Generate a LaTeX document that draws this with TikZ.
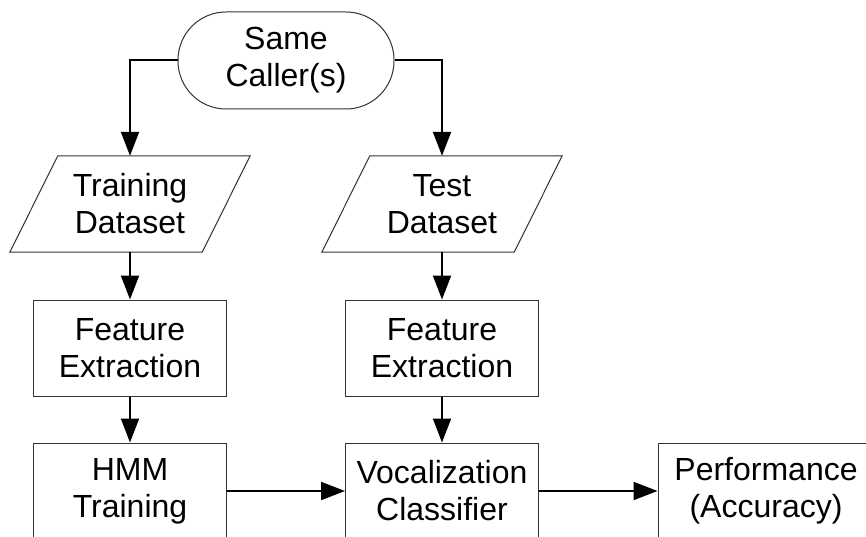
\documentclass[tikz,border=0pt]{standalone}
\usepackage{fontspec}
\setmainfont{Liberation Sans}
\usetikzlibrary{arrows.meta}

\begin{document}
\begin{tikzpicture}[x=1pt,y=1pt,
    every node/.style={font=\fontsize{32}{37}\selectfont, align=center},
    procbox/.style={draw=black!80, line width=1pt, minimum width=193pt, minimum height=96pt, inner sep=0pt},
    iobox/.style={minimum width=192pt, minimum height=96pt, inner sep=0pt},
    termbox/.style={draw=black!80, line width=1pt, rounded corners=48pt, minimum width=216pt, minimum height=97pt, inner sep=0pt},
    conn/.style={draw=black, line width=2pt, -{Triangle[length=24pt, width=18pt]}}
  ]
  \useasboundingbox (0,0) rectangle (866,536);
  \clip (0,0) rectangle (866,536);

  % start terminator
  \node[termbox] (caller) at (286,475.5) {Same\\Caller(s)};

  % input data (parallelograms drawn around plain nodes)
  \node[iobox] (train) at (130,332) {Training\\Dataset};
  \node[iobox] (test)  at (442,332) {Test\\Dataset};
  \foreach \n in {train,test}{
    \draw[black!80, line width=1pt]
      ([xshift=24pt]\n.north west) -- ([xshift=24pt]\n.north east) --
      ([xshift=-24pt]\n.south east) -- ([xshift=-24pt]\n.south west) -- cycle;
  }

  % processing steps
  \node[procbox] (fe1)  at (130,188) {Feature\\Extraction};
  \node[procbox] (fe2)  at (442,188) {Feature\\Extraction};
  \node[procbox] (hmm)  at (130,45)  {HMM\\Training};
  \node[procbox] (voc)  at (442,45)  {Vocalization\\Classifier};
  \node[procbox, minimum width=216pt] (perf) at (766,45) {Performance\\(Accuracy)};

  % connectors
  \draw[conn] (caller.west) -| (train.north);
  \draw[conn] (caller.east) -| (test.north);
  \draw[conn] (train.south) -- (fe1.north);
  \draw[conn] (test.south)  -- (fe2.north);
  \draw[conn] (fe1.south) -- (hmm.north);
  \draw[conn] (fe2.south) -- (voc.north);
  \draw[conn] (hmm.east) -- (voc.west);
  \draw[conn] (voc.east) -- (perf.west);
\end{tikzpicture}
\end{document}
